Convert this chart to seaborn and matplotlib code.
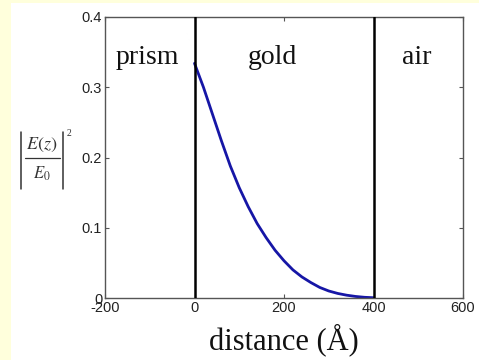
import matplotlib
matplotlib.use("Agg")
import matplotlib.pyplot as plt
from matplotlib.patches import Rectangle
from matplotlib.lines import Line2D
import seaborn as sns
import pandas as pd

# Field intensity through the prism / gold / air stack
distance = [0, 20, 40, 60, 80, 100, 120, 140, 160, 180, 200,
            220, 240, 260, 280, 300, 320, 340, 360, 380, 400]
intensity = [0.334, 0.300, 0.262, 0.224, 0.188, 0.157, 0.130, 0.106, 0.086, 0.068, 0.053,
             0.040, 0.030, 0.022, 0.015, 0.010, 0.0065, 0.004, 0.0022, 0.001, 0.0004]

interfaces = [0, 400]
regions = ["prism", "gold", "air"]
region_centers = [-106, 175, 497]
x_ticks = [-200, 0, 200, 400, 600]
y_ticks = [0, 0.1, 0.2, 0.3, 0.4]

sns.set_theme(style="ticks")
plt.rcParams["font.family"] = ["Liberation Sans", "DejaVu Sans"]
plt.rcParams["mathtext.fontset"] = "stix"

W, H = 479, 360
fig = plt.figure(figsize=(W / 100, H / 100), dpi=100)
fig.patch.set_facecolor("white")
yellow = "#FFFFDC"
fig.patches.append(Rectangle((0, 0), 11 / W, 1, transform=fig.transFigure,
                             facecolor=yellow, edgecolor="none", zorder=-1))
fig.patches.append(Rectangle((0, 1 - 3 / H), 1, 3 / H, transform=fig.transFigure,
                             facecolor=yellow, edgecolor="none", zorder=-1))

ax = fig.add_axes([105 / W, 1 - 298 / H, (463 - 105) / W, (298 - 17) / H])

df = pd.DataFrame({"distance": distance, "intensity": intensity})
sns.lineplot(data=df, x="distance", y="intensity", ax=ax, color="#1616A6",
             linewidth=2.0, solid_joinstyle="round", solid_capstyle="round")

for xi in interfaces:
    ax.axvline(xi, color="black", linewidth=1.8, zorder=3)

ax.set_xlim(-200, 600)
ax.set_ylim(0, 0.4)
ax.set_xticks(x_ticks)
ax.set_yticks(y_ticks)
ax.set_xticklabels([str(v) for v in x_ticks])
ax.set_yticklabels(["0", "0.1", "0.2", "0.3", "0.4"])
ax.tick_params(direction="in", length=3, width=0.8, top=True, right=True,
               labelsize=10.5, labelcolor="#222222", color="#555555", pad=2)
for s in ax.spines.values():
    s.set_color("#555555")
    s.set_linewidth(1.0)

for name, xc in zip(regions, region_centers):
    ax.text(xc, 0.343, name, ha="center", va="center", fontsize=20,
            family="Liberation Serif", color="#111111")

ax.set_xlabel("distance (Å)", fontsize=22, family="Liberation Serif",
              color="#111111", labelpad=6)
ax.set_ylabel("")


# |E(z)/E0|^2 written out as a stacked fraction between absolute-value bars
def px(x, y):
    return x / W, 1 - y / H


lab_color = "#333333"
for bx in (21, 63):
    (x0, y0), (x1, y1) = px(bx, 132), px(bx, 189)
    fig.lines.append(Line2D([x0, x1], [y0, y1], transform=fig.transFigure,
                            color=lab_color, linewidth=1.1))
(x0, y0), (x1, y1) = px(25, 158), px(60, 158)
fig.lines.append(Line2D([x0, x1], [y0, y1], transform=fig.transFigure,
                        color=lab_color, linewidth=0.9))
fig.text(*px(42, 145), r"$E\left(z\right)$", ha="center", va="center",
         fontsize=13, color=lab_color)
fig.text(*px(42, 174), r"$E_0$", ha="center", va="center",
         fontsize=12, color=lab_color)
fig.text(*px(69, 133), "2", ha="center", va="center", fontsize=7,
         family="Liberation Serif", color=lab_color)

fig.savefig("out.png", dpi=100, facecolor=fig.get_facecolor())
